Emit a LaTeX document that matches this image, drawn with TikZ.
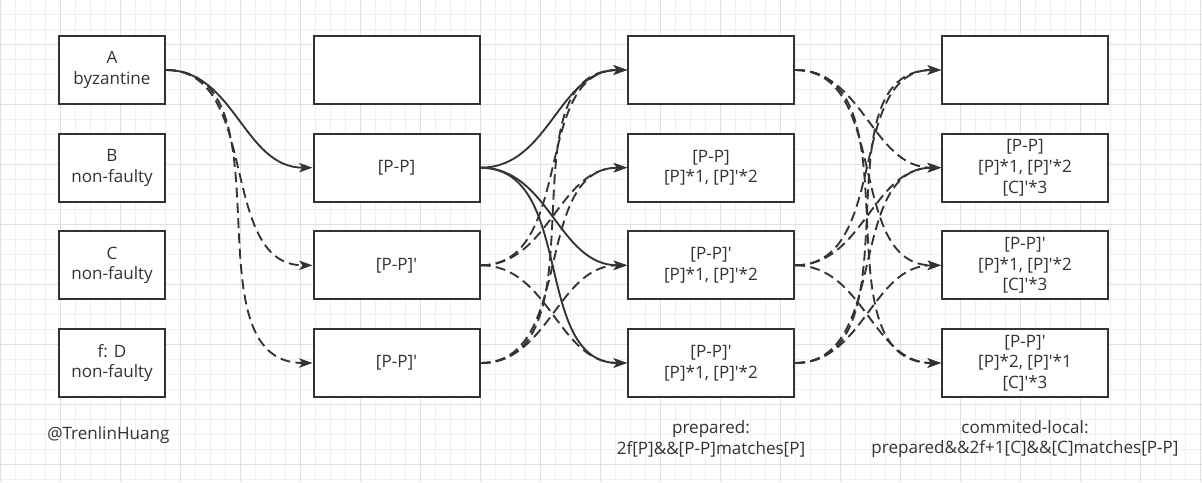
\documentclass[tikz,border=0pt]{standalone}
\usepackage{fontspec}
\setmainfont{Open Sans}
\usepackage{xcolor}
\usetikzlibrary{arrows.meta}
\definecolor{ink}{HTML}{333333}
\definecolor{gridminor}{HTML}{EFEFEF}
\definecolor{gridmajor}{HTML}{E0E0E0}
\newcommand{\sq}{\textquotesingle}

\begin{document}
\begin{tikzpicture}[x=0.75pt,y=-0.75pt,
  every node/.style={font=\fontsize{12.8pt}{15.5pt}\selectfont, text=ink},
  cell/.style={draw=ink, line width=1.5pt, fill=white, align=center, minimum height=51pt, inner sep=0pt},
  narrow/.style={cell, minimum width=79.5pt},
  wide/.style={cell, minimum width=124.5pt},
  msg/.style={draw=ink, line width=1.4pt, out=0, in=180, -{Stealth[length=10pt,width=7pt,inset=2.5pt]}},
  fake/.style={msg, dash pattern=on 7.5pt off 4pt}]
\useasboundingbox (0,0) rectangle (1202,482);
\fill[white] (0,0) rectangle (1202,482);
\foreach \gx in {0.5,15.5,...,1202} \draw[gridminor, line width=0.75pt] (\gx,0) -- (\gx,482);
\foreach \gy in {14.5,29.5,...,482} \draw[gridminor, line width=0.75pt] (0,\gy) -- (1202,\gy);
\foreach \gx in {0.5,60.5,...,1202} \draw[gridmajor, line width=0.75pt] (\gx,0) -- (\gx,482);
\foreach \gy in {44.5,104.5,...,482} \draw[gridmajor, line width=0.75pt] (0,\gy) -- (1202,\gy);

\node[narrow] (a1) at (112,70) {A\\byzantine};
\node[narrow] (b1) at (112,167.7) {B\\non-faulty};
\node[narrow] (c1) at (112,265.3) {C\\non-faulty};
\node[narrow] (d1) at (112,363) {f: D\\non-faulty};

\node[wide] (a2) at (396.5,70) {};
\node[wide] (b2) at (396.5,167.7) {[P-P]};
\node[wide] (c2) at (396.5,265.3) {[P-P]\sq};
\node[wide] (d2) at (396.5,363) {[P-P]\sq};

\node[wide] (a3) at (711,70) {};
\node[wide] (b3) at (711,167.7) {[P-P]\\{}[P]*1, [P]\sq*2};
\node[wide] (c3) at (711,265.3) {[P-P]\sq\\{}[P]*1, [P]\sq*2};
\node[wide] (d3) at (711,363) {[P-P]\sq\\{}[P]*1, [P]\sq*2};

\node[wide] (a4) at (1025,70) {};
\node[wide] (b4) at (1025,167.7) {[P-P]\\{}[P]*1, [P]\sq*2\\{}[C]\sq*3};
\node[wide] (c4) at (1025,265.3) {[P-P]\sq\\{}[P]*1, [P]\sq*2\\{}[C]\sq*3};
\node[wide] (d4) at (1025,363) {[P-P]\sq\\{}[P]*2, [P]\sq*1\\{}[C]\sq*3};

\node[anchor=west, inner sep=0pt] (sign) at (47,435) {@TrenlinHuang};
\node[align=center, inner sep=0pt] (prep) at (711,439) {prepared:\\2f[P]\&\&[P-P]matches[P]};
\node[align=center, inner sep=0pt] (comm) at (1025,439) {commited-local:\\prepared\&\&2f+1[C]\&\&[C]matches[P-P]};

\draw[msg] (a1.east) to (b2.west);
\draw[fake] (a1.east) to (c2.west);
\draw[fake] (a1.east) to (d2.west);

\draw[msg] (b2.east) to (a3.west);
\draw[msg] (b2.east) to (c3.west);
\draw[msg] (b2.east) to (d3.west);
\draw[fake] (c2.east) to (a3.west);
\draw[fake] (c2.east) to (b3.west);
\draw[fake] (c2.east) to (d3.west);
\draw[fake] (d2.east) to (a3.west);
\draw[fake] (d2.east) to (b3.west);
\draw[fake] (d2.east) to (c3.west);

\draw[fake] (a3.east) to (b4.west);
\draw[fake] (a3.east) to (c4.west);
\draw[fake] (a3.east) to (d4.west);
\draw[fake] (c3.east) to (a4.west);
\draw[fake] (c3.east) to (b4.west);
\draw[fake] (c3.east) to (d4.west);
\draw[fake] (d3.east) to (a4.west);
\draw[fake] (d3.east) to (b4.west);
\draw[fake] (d3.east) to (c4.west);
\end{tikzpicture}
\end{document}
